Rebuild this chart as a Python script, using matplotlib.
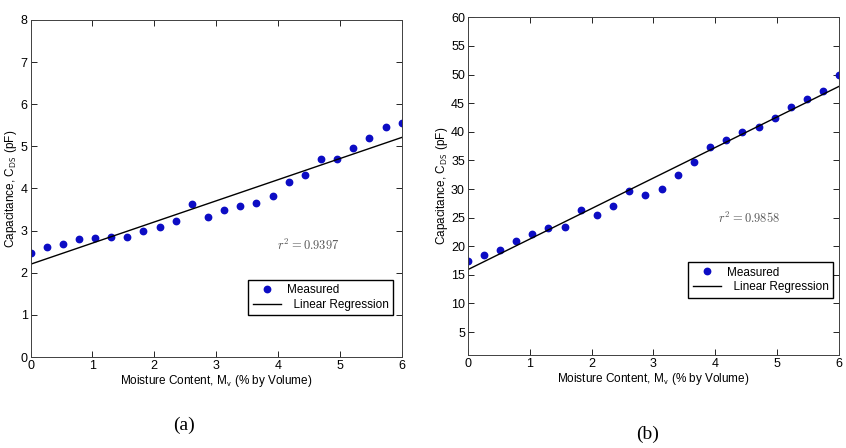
import numpy as np
import matplotlib
matplotlib.use("Agg")
import matplotlib.pyplot as plt

plt.rcParams['font.family'] = ['Liberation Sans', 'DejaVu Sans']
plt.rcParams['mathtext.fontset'] = 'cm'

# moisture content, 24 samples between 0 and 6 % by volume
moisture = np.linspace(0, 6, 24)

cap_a = [2.46, 2.62, 2.68, 2.80, 2.83, 2.85, 2.85, 3.00, 3.09, 3.23, 3.63, 3.33,
         3.50, 3.59, 3.66, 3.83, 4.15, 4.31, 4.69, 4.69, 4.97, 5.19, 5.45, 5.56]
cap_b = [17.5, 18.5, 19.4, 20.95, 22.1, 23.2, 23.4, 26.4, 25.5, 27.0, 29.7, 28.9,
         30.0, 32.4, 34.75, 37.4, 38.6, 40.0, 40.9, 42.4, 44.35, 45.75, 47.15, 50.0]

r2_a = '0.9397'
r2_b = '0.9858'
captions = ['(a)', '(b)']

blue = '#0c0cc4'


def panel(ax, y, r2, ylim, yticks, r2_pos, legend_anchor):
    slope, icpt = np.polyfit(moisture, y, 1)
    ax.plot(moisture, y, 'o', color=blue, markersize=4.6, label='Measured')
    ax.plot(moisture, slope * moisture + icpt, '-', color='black', lw=1.0,
            label='  Linear Regression')
    ax.set_xlim(0, 6)
    ax.set_ylim(*ylim)
    ax.set_yticks(yticks)
    ax.set_xticks(range(7))
    ax.tick_params(direction='in', top=True, right=True, length=4, width=0.6,
                   labelsize=9, pad=2)
    for s in ax.spines.values():
        s.set_linewidth(0.7)
        s.set_color('#404040')
    ax.set_xlabel(r'Moisture Content, M$_\mathsf{v}$ (% by Volume)', fontsize=8.5,
                  labelpad=1)
    ax.set_ylabel(r'Capacitance, C$_\mathsf{DS}$ (pF)', fontsize=8.5, labelpad=1)
    ax.text(r2_pos[0], r2_pos[1], r'$r^2 = %s$' % r2, fontsize=9, color='#555555',
            va='center')
    ax.legend(loc='lower left', bbox_to_anchor=legend_anchor, fontsize=8.5,
              frameon=True, fancybox=False, edgecolor='black', framealpha=1,
              borderpad=0.35, handlelength=2.4, handletextpad=0.5,
              labelspacing=0.25, borderaxespad=0)


fig = plt.figure(figsize=(8.46, 4.48), dpi=100)
ax1 = fig.add_axes([0.0361, 0.2031, 0.4387, 0.7523])
ax2 = fig.add_axes([0.5528, 0.2076, 0.4393, 0.7538])

panel(ax1, cap_a, r2_a, (0, 8), range(0, 9), (3.98, 2.64), (0.587, 0.125))
panel(ax2, cap_b, r2_b, (1, 60), range(5, 61, 5), (4.04, 24.8), (0.594, 0.17))

fig.text(184 / 846, 1 - 425 / 448, captions[0], family='Liberation Serif',
         fontsize=14, ha='center', va='center')
fig.text(648 / 846, 1 - 434 / 448, captions[1], family='Liberation Serif',
         fontsize=14, ha='center', va='center')

fig.savefig('out.png', dpi=100)
